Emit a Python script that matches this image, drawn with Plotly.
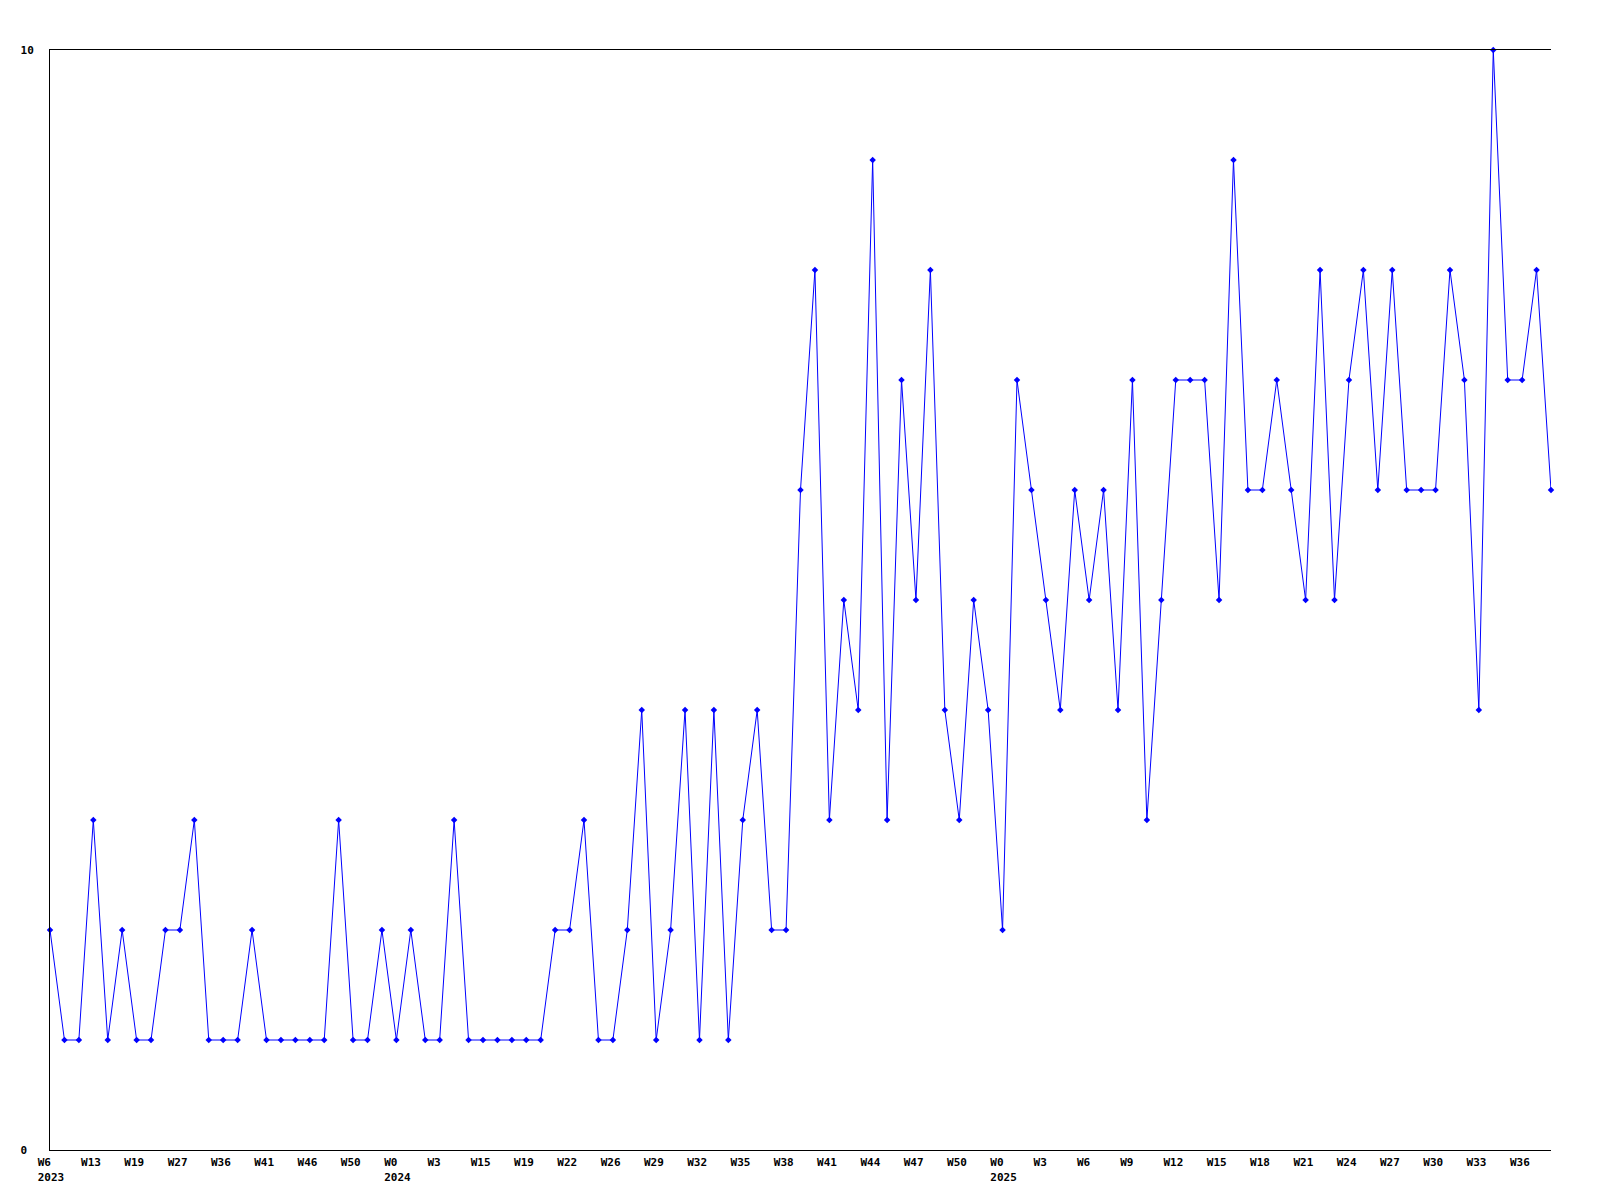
import plotly.graph_objects as go

# Series values (one point per observation, in order)
values = [2, 1, 1, 3, 1, 2, 1, 1, 2, 2, 3, 1, 1, 1, 2, 1, 1, 1, 1, 1,
          3, 1, 1, 2, 1, 2, 1, 1, 3, 1, 1, 1, 1, 1, 1, 2, 2, 3, 1, 1,
          2, 4, 1, 2, 4, 1, 4, 1, 3, 4, 2, 2, 6, 8, 3, 5, 4, 9, 3, 7,
          5, 8, 4, 3, 5, 4, 2, 7, 6, 5, 4, 6, 5, 6, 4, 7, 3, 5, 7, 7,
          7, 5, 9, 6, 6, 7, 6, 5, 8, 5, 7, 8, 6, 8, 6, 6, 6, 8, 7, 4,
          10, 7, 7, 8, 6]

# Tick labels shown every third point
week_labels = ["W6", "W13", "W19", "W27", "W36", "W41", "W46", "W50", "W0", "W3",
               "W15", "W19", "W22", "W26", "W29", "W32", "W35", "W38", "W41", "W44",
               "W47", "W50", "W0", "W3", "W6", "W9", "W12", "W15", "W18", "W21",
               "W24", "W27", "W30", "W33", "W36"]
year_labels = {0: "2023", 8: "2024", 22: "2025"}
tick_step = 3

y_tick_vals = [0, 10]
y_tick_text = ["0\u00a0", "10"]

NB = "\u00a0"
x = list(range(len(values)))
tickvals = [i * tick_step for i in range(len(week_labels))]
ticktext = []
for i, w in enumerate(week_labels):
    w_pad = w + NB * (4 - len(w))
    if i in year_labels:
        ticktext.append(w_pad + "<br>" + year_labels[i])
    else:
        ticktext.append(w_pad)

font_family = "DejaVu Sans Mono"

fig = go.Figure()
fig.add_trace(go.Scatter(
    x=x, y=values, mode="lines+markers",
    line=dict(color="#0000ff", width=1),
    marker=dict(symbol="diamond", size=5, color="#0000ff"),
    cliponaxis=False,
    showlegend=False,
))

fig.update_layout(
    width=1600, height=1200,
    margin=dict(l=50, r=49, t=50, b=50, pad=0),
    paper_bgcolor="white", plot_bgcolor="white",
    font=dict(family=font_family, size=11, color="black", weight="bold"),
)
fig.update_xaxes(
    range=[0, len(values) - 1],
    tickmode="array", tickvals=tickvals, ticktext=ticktext,
    showgrid=False, zeroline=False,
    showline=True, linecolor="black", linewidth=1, mirror=True,
    ticks="", ticklabelshift=1, ticklabelstandoff=2,
    tickfont=dict(family=font_family, size=11, color="black", weight="bold"),
)
fig.update_yaxes(
    range=[0, 10],
    tickmode="array", tickvals=y_tick_vals, ticktext=y_tick_text,
    showgrid=False, zeroline=False,
    showline=True, linecolor="black", linewidth=1,
    ticks="", ticklabelstandoff=13,
    tickfont=dict(family=font_family, size=11, color="black", weight="bold"),
)

fig.write_html("out.html", config={"displayModeBar": False},
               post_script="document.body.style.margin='0';")
